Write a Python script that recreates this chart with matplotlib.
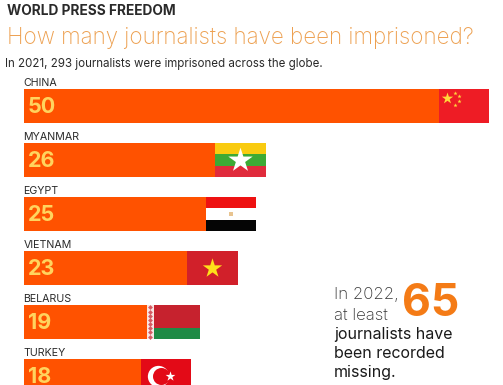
#!/usr/bin/env python3
"""World press freedom: journalists imprisoned in 2021, by country."""

import matplotlib
matplotlib.use("Agg")
import matplotlib.pyplot as plt
from matplotlib.patches import Rectangle

plt.rcParams["font.family"] = ["Inter", "DejaVu Sans"]

COUNTRIES = ["CHINA", "MYANMAR", "EGYPT", "VIETNAM", "BELARUS", "TURKEY"]
JOURNALISTS = [50, 26, 25, 23, 19, 18]

W, H = 503, 385
BAR_LEFT = 23.5
PX_PER_UNIT = 9.31   # bar length
ROW_STEP = 54.0      # px between rows
FIRST_ROW = 106.0    # px from the top to centre of first bar
BAR_H = 33.5 / ROW_STEP
FLAG_W = 50.5 / PX_PER_UNIT

ORANGE = "#FF5200"
DARK = "#2A2A2A"


def px(x):
    return x / W


def py(y):
    return 1 - y / H


def band(ax, value, row, frac0, frac1, color, x0=0.0, x1=1.0):
    """Rectangle in flag coordinates (0-1 across the flag, 0-1 top to bottom)."""
    left = value - FLAG_W
    ax.add_patch(Rectangle((left + x0 * FLAG_W, row - BAR_H / 2 + frac0 * BAR_H),
                           (x1 - x0) * FLAG_W, (frac1 - frac0) * BAR_H,
                           facecolor=color, edgecolor="none", zorder=3))


def mark(ax, value, row, fx, fy, marker, size, color, z=4):
    ax.scatter([value - FLAG_W + fx * FLAG_W], [row - BAR_H / 2 + fy * BAR_H],
               marker=marker, s=size, color=color, linewidths=0, zorder=z)


def china(ax, v, r):
    band(ax, v, r, 0, 1, "#EE1C25")
    mark(ax, v, r, 0.16, 0.26, "*", 75, "#FFD93B")
    for fx, fy in [(0.32, 0.10), (0.40, 0.21), (0.40, 0.36), (0.32, 0.47)]:
        mark(ax, v, r, fx, fy, "*", 10, "#FFD93B")


def myanmar(ax, v, r):
    band(ax, v, r, 0, 1 / 3, "#F9CB10")
    band(ax, v, r, 1 / 3, 2 / 3, "#3DAA35")
    band(ax, v, r, 2 / 3, 1, "#E02B3C")
    mark(ax, v, r, 0.5, 0.5, "*", 340, "white")


def egypt(ax, v, r):
    band(ax, v, r, 0, 1 / 3, "#EE1111")
    band(ax, v, r, 1 / 3, 2 / 3, "white")
    band(ax, v, r, 2 / 3, 1, "#050505")
    mark(ax, v, r, 0.5, 0.5, "s", 12, "#E8C490")


def vietnam(ax, v, r):
    band(ax, v, r, 0, 1, "#D1202A")
    mark(ax, v, r, 0.5, 0.5, "*", 215, "#FFE11A")


def belarus(ax, v, r):
    band(ax, v, r, 0, 2 / 3, "#C6222E", x0=0.09)
    band(ax, v, r, 2 / 3, 1, "#1E8A45", x0=0.09)
    band(ax, v, r, 0, 1, "#F8E6E4", x0=-0.065, x1=0.09)
    for i in range(8):
        mark(ax, v, r, 0.012, (i + 0.5) / 8, "D", 6, "#D65A62")


def turkey(ax, v, r):
    band(ax, v, r, 0, 1, "#E30A17")
    mark(ax, v, r, 0.345, 0.5, "o", 235, "white")
    mark(ax, v, r, 0.395, 0.5, "o", 150, "#E30A17", z=5)
    mark(ax, v, r, 0.59, 0.5, "*", 55, "white", z=6)


FLAGS = [china, myanmar, egypt, vietnam, belarus, turkey]

fig = plt.figure(figsize=(W / 100, H / 100), dpi=100)
ax = fig.add_axes([0, 0, 1, 1])
ax.set_xlim(-BAR_LEFT / PX_PER_UNIT, (W - BAR_LEFT) / PX_PER_UNIT)
ax.set_ylim((H - FIRST_ROW) / ROW_STEP, -FIRST_ROW / ROW_STEP)
ax.axis("off")

rows = range(len(COUNTRIES))
ax.barh(list(rows), JOURNALISTS, height=BAR_H, color=ORANGE, linewidth=0, zorder=2)

for row, name, val, flag in zip(rows, COUNTRIES, JOURNALISTS, FLAGS):
    flag(ax, val, row)
    ax.text(0, row - 22.5 / ROW_STEP, name, fontsize=7.7, color=DARK,
            ha="left", va="center")
    ax.text(0.45, row + 0.01, str(val), fontsize=15.5, fontweight="bold",
            color="#FFD45E", ha="left", va="center", zorder=5)

fig.text(px(7), py(11), "WORLD PRESS FREEDOM", fontsize=9.9, fontweight="bold",
         color=DARK, va="center")
fig.text(px(7), py(38), "How many journalists have been imprisoned?", fontsize=16.1,
         fontweight="light", color="#EDA050", va="center")
fig.text(px(5), py(64), "In 2021, 293 journalists were imprisoned across the globe.",
         fontsize=8.3, color=DARK, va="center")

fig.text(px(334), py(294), "In 2022,", fontsize=12.1, fontweight="light",
         color="#333333", va="center")
fig.text(px(334), py(315), "at least", fontsize=12.1, fontweight="light",
         color="#333333", va="center")
fig.text(px(402), py(304), "65", fontsize=32, fontweight="bold", color="#F47B16",
         va="center")
for y, line in zip([335, 353, 373], ["journalists have", "been recorded", "missing."]):
    fig.text(px(334), py(y), line, fontsize=11.5, color="#1A1A1A", va="center")

fig.savefig("out.png", dpi=100)
